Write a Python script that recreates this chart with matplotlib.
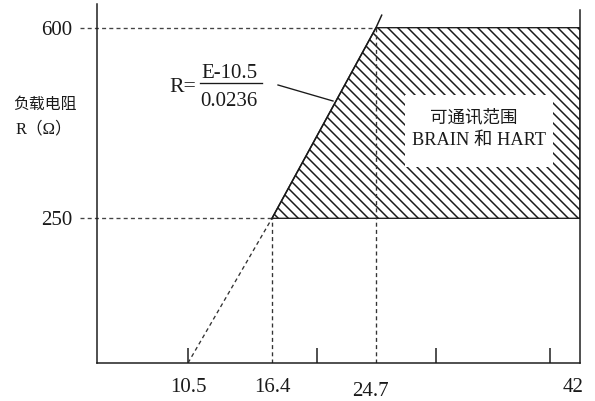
import numpy as np
import matplotlib
matplotlib.use("Agg")
import matplotlib.pyplot as plt
from matplotlib.patches import Polygon, Rectangle
from matplotlib.lines import Line2D
from matplotlib.transforms import ScaledTranslation

# ---------------- data ----------------
E_labeled = [10.5, 16.4, 24.7, 42]          # labelled supply voltages (V)
E_label_text = ["10.5", "16.4", "24.7", "42"]
E_minor_ticks = [10.5, 20, 30, 40]           # unlabelled tick marks
R_levels = [250, 600]                        # load resistance levels (ohm)
R_label_text = ["250", "600"]
E_line_dashed = [10.5, 16.4]                 # R = (E-10.5)/0.0236, extrapolated part
R_line_dashed = [0, 250]
E_line_solid = [16.4, 24.7, 25.2]
R_line_solid = [250, 600, 623]
E_min_comm, E_full = 16.4, 24.7              # corners of the communication area

# ---------------- layout ----------------
W, H, DPI = 595, 401, 120
plt.rcParams["hatch.linewidth"] = 0.9
SERIF = ["Liberation Serif", "Noto Sans CJK SC"]
CJK = ["Noto Sans CJK SC", "Liberation Serif"]
INK = "#1a1a1a"

fig = plt.figure(figsize=(W / DPI, H / DPI), dpi=DPI)
fig.patch.set_facecolor("white")


def fp(px, py):
    return (px / W, 1 - py / H)


def piecewise(d, p):
    d = np.asarray(d, float)
    p = np.asarray(p, float)
    s0 = (p[1] - p[0]) / (d[1] - d[0])
    s1 = (p[-1] - p[-2]) / (d[-1] - d[-2])

    def fwd(x):
        x = np.asarray(x, float)
        y = np.interp(x, d, p)
        y = np.where(x < d[0], p[0] + (x - d[0]) * s0, y)
        y = np.where(x > d[-1], p[-1] + (x - d[-1]) * s1, y)
        return y

    def inv(y):
        y = np.asarray(y, float)
        x = np.interp(y, p, d)
        x = np.where(y < p[0], d[0] + (y - p[0]) / s0, x)
        x = np.where(y > p[-1], d[-1] + (y - p[-1]) / s1, x)
        return x

    return fwd, inv


# schematic (non-uniform) axes, as in the original drawing
xf, xi = piecewise([10.5, 16.4, 24.7, 42], [188, 272, 376, 573])
yf, yi = piecewise([0, 250, 600], [-363, -218.3, -27.7])

L, R, B, T = 96.7, 580, 363, 4
ax = fig.add_axes([L / W, 1 - B / H, (R - L) / W, (B - T) / H])
ax.set_xscale("function", functions=(xf, xi))
ax.set_yscale("function", functions=(yf, yi))
x0, x1 = float(xi(L)), float(xi(R))
ytop = float(yi(-T))
ax.set_xlim(x0, x1)
ax.set_ylim(0, ytop)
ax.patch.set_alpha(0)

ax.spines["top"].set_visible(False)
for s in ["left", "bottom", "right"]:
    ax.spines[s].set_linewidth(0.9)
    ax.spines[s].set_color(INK)
ax.spines["right"].set_bounds(0, float(yi(-10)))

# ticks
ax.xaxis.remove_overlapping_locs = False
ax.set_xticks(E_labeled, E_label_text)
ax.set_xticks(E_minor_ticks, minor=True)
ax.tick_params(axis="x", which="major", length=0, pad=9.3, labelsize=12.5, labelcolor=INK)
ax.tick_params(axis="x", which="minor", direction="in", length=9, width=0.9, color=INK)
ax.set_yticks(R_levels, R_label_text)
ax.tick_params(axis="y", which="major", length=0, pad=14.5, labelsize=12.5, labelcolor=INK)
for lab in ax.get_xticklabels() + ax.get_yticklabels():
    lab.set_fontfamily(SERIF)
lab247 = ax.get_xticklabels()[2]
lab247.set_transform(lab247.get_transform() + ScaledTranslation(-6 / DPI, -3 / DPI, fig.dpi_scale_trans))

# hatched communication region
poly = Polygon([(E_min_comm, R_levels[0]), (E_full, R_levels[1]),
                (x1, R_levels[1]), (x1, R_levels[0])],
               closed=True, facecolor="none", edgecolor=INK, lw=0.8,
               hatch="\\\\\\\\", zorder=1)
ax.add_patch(poly)

# load line
ax.plot(E_line_solid, R_line_solid, color=INK, lw=0.9, zorder=3, clip_on=False)
dash = (0, (3, 2.4))
ax.plot(E_line_dashed, R_line_dashed, color="#333333", lw=0.8, ls=dash, zorder=2)

# reference dashed lines
x_left_ext = float(xi(80))
ax.plot([x_left_ext, E_full], [R_levels[1]] * 2, color="#444444", lw=0.8, ls=dash, clip_on=False, zorder=2)
ax.plot([x_left_ext, E_min_comm], [R_levels[0]] * 2, color="#444444", lw=0.8, ls=dash, clip_on=False, zorder=2)
ax.plot([E_min_comm] * 2, [0, R_levels[0]], color="#333333", lw=0.8, ls=dash, zorder=2)
ax.plot([E_full] * 2, [0, R_levels[1]], color="#333333", lw=0.8, ls=dash, zorder=2)

# y-axis title
fig.text(*fp(45, 104), "负载电阻", family=CJK, fontsize=9.5, ha="center", va="center", color=INK)
fig.text(*fp(44, 129), "R（Ω）", family=SERIF, fontsize=10, ha="center", va="center", color=INK)

# formula
fig.text(*fp(169, 87), "R=", family=SERIF, fontsize=13, ha="left", va="center", color=INK)
fig.text(*fp(229, 74), "E-10.5", family=SERIF, fontsize=12.5, ha="center", va="center", color=INK)
fig.text(*fp(228.5, 102), "0.0236", family=SERIF, fontsize=12.5, ha="center", va="center", color=INK)
fig.add_artist(Line2D([200 / W, 262 / W], [1 - 83 / H] * 2, transform=fig.transFigure, color=INK, lw=0.8))
fig.add_artist(Line2D([278 / W, 333 / W], [1 - 85 / H, 1 - 101 / H], transform=fig.transFigure, color=INK, lw=0.8))

# label box in hatched area
fig.add_artist(Rectangle(fp(405, 167), 148 / W, 72 / H, transform=fig.transFigure,
                         facecolor="white", edgecolor="none", zorder=3))
fig.text(*fp(474, 117), "可通讯范围", family=CJK, fontsize=10.5, ha="center", va="center", color=INK, zorder=4)
fig.text(*fp(479, 140), "BRAIN 和 HART", family=SERIF, fontsize=11, ha="center", va="center", color=INK, zorder=4)

fig.savefig("out.png", dpi=DPI, facecolor="white")
